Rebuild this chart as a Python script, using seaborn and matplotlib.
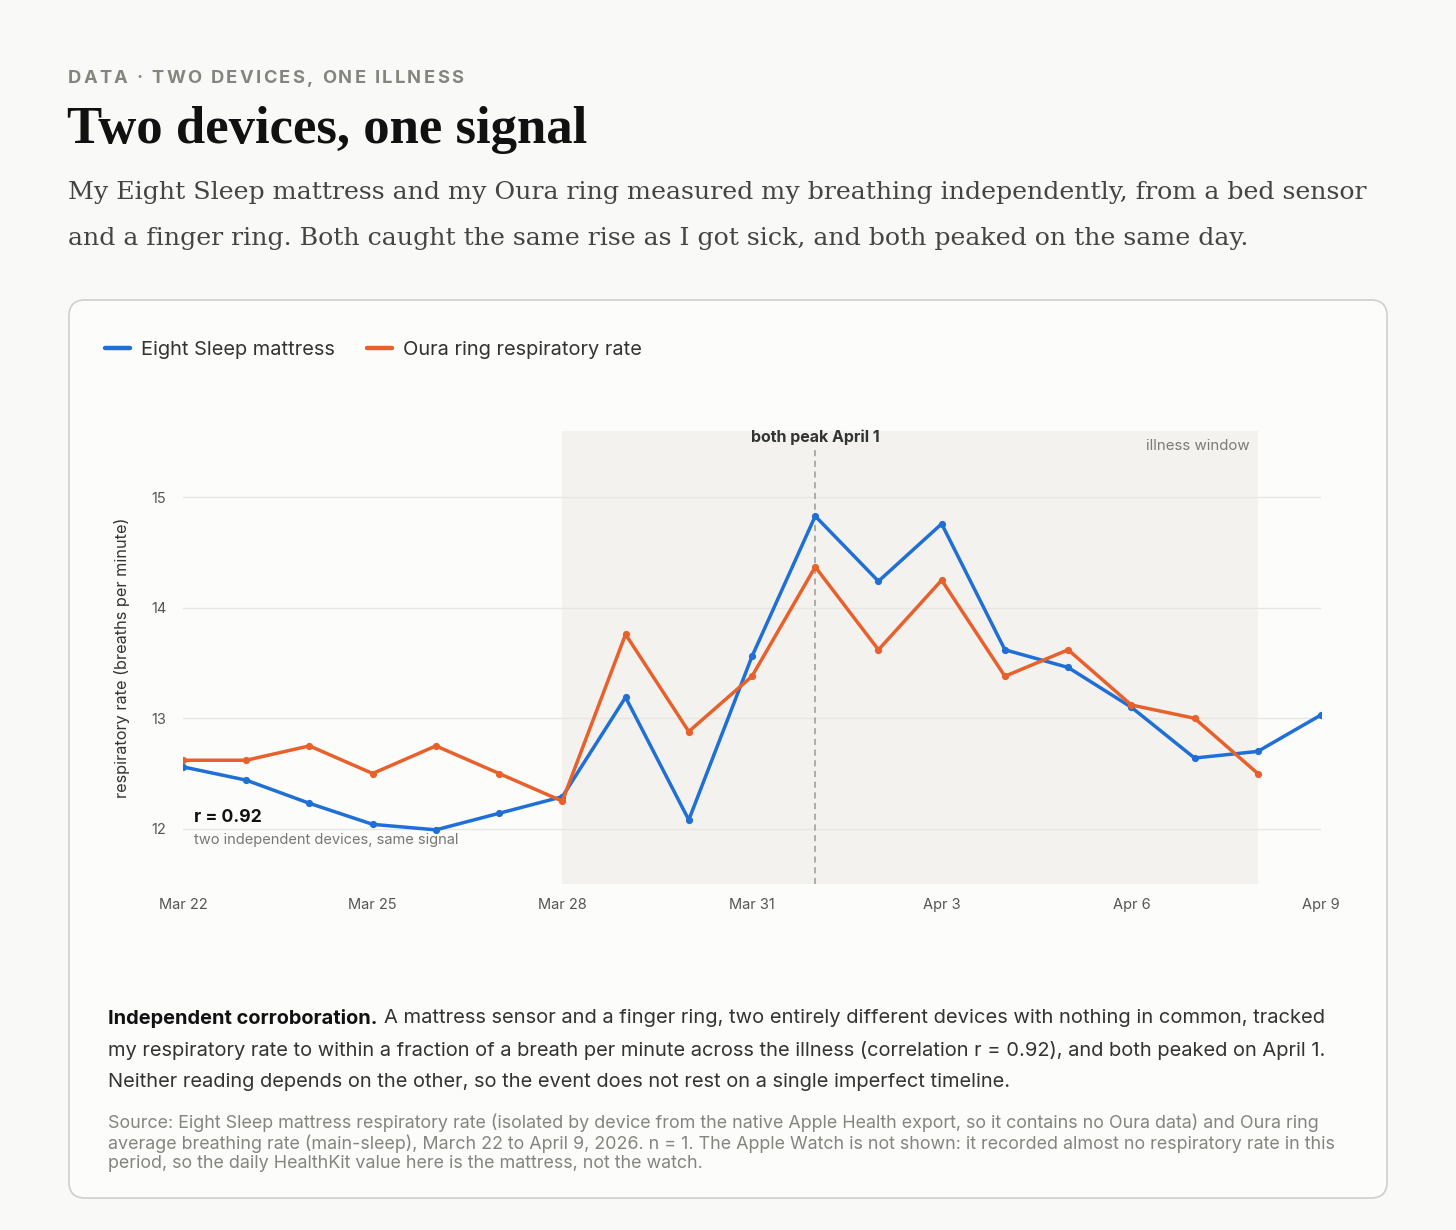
import numpy as np
import pandas as pd
import matplotlib
matplotlib.use("Agg")
import matplotlib.pyplot as plt
import matplotlib.dates as mdates
from matplotlib.patches import FancyBboxPatch
from matplotlib.transforms import IdentityTransform
import seaborn as sns

# ---------------- data ----------------
dates = pd.date_range("2026-03-22", "2026-04-09", freq="D")
eight_sleep = [12.56, 12.44, 12.23, 12.04, 11.99, 12.14, 12.29, 13.19, 12.08, 13.56,
               14.83, 14.24, 14.76, 13.62, 13.46, 13.10, 12.64, 12.70, 13.03]
oura_dates = pd.date_range("2026-03-22", "2026-04-08", freq="D")
oura = [12.62, 12.62, 12.75, 12.50, 12.75, 12.50, 12.25, 13.76, 12.88, 13.38,
        14.37, 13.62, 14.25, 13.38, 13.62, 13.12, 13.00, 12.50]
series_names = ["Eight Sleep mattress", "Oura ring respiratory rate"]
colors = ["#1f6fd6", "#e8612c"]
illness_start, illness_end = pd.Timestamp("2026-03-28"), pd.Timestamp("2026-04-08")
peak_day = pd.Timestamp("2026-04-01")
yticks = [12, 13, 14, 15]

df = pd.concat([
    pd.DataFrame({"date": dates, "rate": eight_sleep, "series": series_names[0]}),
    pd.DataFrame({"date": oura_dates, "rate": oura, "series": series_names[1]}),
], ignore_index=True)

# ---------------- figure ----------------
sns.set_theme(style="white")
plt.rcParams["font.family"] = ["Inter", "DejaVu Sans"]

W, H = 1456, 1230
fig = plt.figure(figsize=(W / 100, H / 100), dpi=100)
fig.patch.set_facecolor("#f9f9f7")

def P(x, y):
    return x / W, 1 - y / H

SERIF = ["DejaVu Serif", "Liberation Serif"]

# card
card = FancyBboxPatch((69, H - 1198), 1318, 898,
                      boxstyle="round,pad=0,rounding_size=16",
                      transform=IdentityTransform(), facecolor="#fcfcfb",
                      edgecolor="#cfcfcc", linewidth=1.2, zorder=-5)
fig.patches.append(card)

renderer = fig.canvas.get_renderer()

def spaced_text(x, y, s, spacing, **kw):
    cx = x
    for ch in s:
        t = fig.text(cx / W, 1 - y / H, ch, ha="left", va="baseline", **kw)
        w = t.get_window_extent(renderer).width
        if ch == " ":
            tmp = fig.text(0, 0, "a a", **kw)
            tmp2 = fig.text(0, 0, "aa", **kw)
            w = tmp.get_window_extent(renderer).width - tmp2.get_window_extent(renderer).width
            tmp.remove(); tmp2.remove()
        cx += w + spacing

# header text
spaced_text(68, 83, "DATA · TWO DEVICES, ONE ILLNESS", 2.3, fontsize=13.2,
            fontweight="bold", color="#85857f")
fig.text(*P(67, 143), "Two devices, one signal", fontsize=38,
         fontfamily=["Liberation Serif", "DejaVu Serif"], fontweight="bold",
         color="#111111", va="baseline", ha="left")
sub1 = "My Eight Sleep mattress and my Oura ring measured my breathing independently, from a bed sensor"
sub2 = "and a finger ring. Both caught the same rise as I got sick, and both peaked on the same day."
fig.text(*P(68, 199), sub1, fontsize=18.2, fontfamily=SERIF, color="#444444",
         va="baseline", ha="left")
fig.text(*P(68, 245), sub2, fontsize=18.2, fontfamily=SERIF, color="#444444",
         va="baseline", ha="left")

# axes
ax_l, ax_r, ax_t, ax_b = 183, 1321, 431, 884
ax = fig.add_axes([ax_l / W, 1 - ax_b / H, (ax_r - ax_l) / W, (ax_b - ax_t) / H])
ax.set_facecolor("none")

ax.axvspan(illness_start, illness_end, color="#f3f2ef", zorder=0, lw=0)
ax.axvline(peak_day, ymin=0, ymax=0.965, color="#9a9a96", lw=1.1,
           ls=(0, (4, 3)), zorder=1)

sns.lineplot(data=df, x="date", y="rate", hue="series", palette=colors,
             hue_order=series_names, marker="o", markersize=5.2,
             markeredgewidth=0, linewidth=2.5, ax=ax, zorder=3)

ax.set_xlim(dates[0], dates[-1])
ax.set_ylim(11.5, 15.6)
ax.set_yticks(yticks)
ax.xaxis.set_major_locator(mdates.DayLocator(interval=3))
ax.xaxis.set_major_formatter(mdates.DateFormatter("%b %-d"))
ax.grid(axis="y", color="#e6e6e3", lw=1)
ax.grid(axis="x", visible=False)
for s in ax.spines.values():
    s.set_visible(False)
ax.tick_params(axis="both", length=0, labelsize=10.5, colors="#555555")
ax.tick_params(axis="x", pad=10)
ax.tick_params(axis="y", pad=12)
ax.set_xlabel("")
ax.set_ylabel("respiratory rate (breaths per minute)", fontsize=11.7,
              color="#333333", labelpad=15)

# annotations
ax.text(peak_day, 15.61, "both peak April 1", ha="center", va="top",
        fontsize=11.5, fontweight="bold", color="#333333")
ax.text(illness_end - pd.Timedelta(hours=3), 15.53, "illness window",
        ha="right", va="top", fontsize=10.8, color="#7a7a76")
ax.text(pd.Timestamp("2026-03-22 04:00"), 12.10, "r = 0.92", ha="left",
        va="center", fontsize=12.7, fontweight="bold", color="#111111")
ax.text(pd.Timestamp("2026-03-22 04:00"), 11.90, "two independent devices, same signal",
        ha="left", va="center", fontsize=10.55, color="#777777")

# legend
leg = ax.legend(loc="upper left", bbox_to_anchor=P(105, 341),
                bbox_transform=fig.transFigure, ncol=2, frameon=False,
                fontsize=14.4, handlelength=1.25, handletextpad=0.55,
                columnspacing=1.6, borderaxespad=0, borderpad=0)
for h in leg.get_lines():
    h.set_linewidth(3.2)
    h.set_marker("")
for t in leg.get_texts():
    t.set_color("#333333")

# footnote
tb = fig.text(*P(108, 1018), "Independent corroboration.", fontsize=14.4,
              fontweight="bold", color="#111111", va="center", ha="left")
bb = tb.get_window_extent(renderer)
fig.text((bb.x1 + 7) / W, 1 - 1018 / H,
         "A mattress sensor and a finger ring, two entirely different devices with nothing in common, tracked",
         fontsize=14.5, color="#333333", va="center", ha="left")
fig.text(*P(108, 1050),
         "my respiratory rate to within a fraction of a breath per minute across the illness (correlation r = 0.92), and both peaked on April 1.",
         fontsize=14.45, color="#333333", va="center", ha="left")
fig.text(*P(108, 1082),
         "Neither reading depends on the other, so the event does not rest on a single imperfect timeline.",
         fontsize=14.45, color="#333333", va="center", ha="left")

src = ["Source: Eight Sleep mattress respiratory rate (isolated by device from the native Apple Health export, so it contains no Oura data) and Oura ring",
       "average breathing rate (main-sleep), March 22 to April 9, 2026. n = 1. The Apple Watch is not shown: it recorded almost no respiratory rate in this",
       "period, so the daily HealthKit value here is the mattress, not the watch."]
for i, line in enumerate(src):
    fig.text(*P(108, 1123 + i * 20.5), line, fontsize=12.9, color="#85857f",
             va="center", ha="left")

fig.savefig("out.png", dpi=100, facecolor=fig.get_facecolor())
